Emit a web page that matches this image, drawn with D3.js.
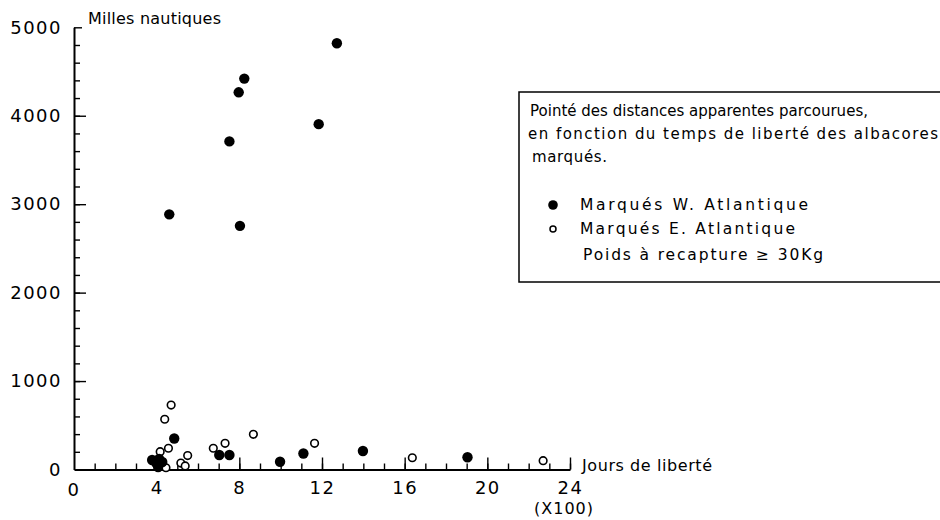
<!DOCTYPE html>
<html>
<head>
<meta charset="utf-8">
<script src="https://cdn.jsdelivr.net/npm/d3@7"></script>
<style>
  html, body { margin: 0; padding: 0; background: #fff; }
  svg { display: block; }
  text { font-family: "DejaVu Sans", sans-serif; fill: #000; }
</style>
</head>
<body>
<div id="chart"></div>
<script>
// ---- données (x en centaines de jours, y en milles nautiques) ----
const xTicks = [0, 4, 8, 12, 16, 20, 24];
const yTicks = [0, 1000, 2000, 3000, 4000, 5000];

// marqués W. Atlantique (points pleins)
const westX = [12.72, 8.24, 7.97, 11.84, 7.52, 4.61, 8.03,
               4.85, 7.03, 7.52, 9.97, 11.1, 13.98, 19.04,
               3.78, 3.98, 4.12, 4.27, 4.07];
const westY = [4820, 4420, 4265, 3905, 3710, 2885, 2755,
               350, 164, 164, 88, 181, 209, 138,
               107, 74, 119, 85, 28];

// marqués E. Atlantique (cercles vides)
const eastX = [4.70, 4.39, 4.57, 4.17, 5.5, 5.17, 5.38, 4.45,
               6.74, 7.31, 8.68, 11.64, 16.37, 22.7];
const eastY = [729, 568, 240, 201, 158, 73, 40, 20,
               240, 296, 398, 296, 133, 100];

const legendLines = [
  "Pointé des distances apparentes parcourues,",
  "en fonction du temps de liberté des albacores",
  "marqués."
];
const seriesNames = ["Marqués  W. Atlantique", "Marqués  E. Atlantique"];
const noteText = "Poids à recapture  ≥ 30Kg";

// ---- mise en page ----
const width = 940, height = 520;

const svg = d3.select("#chart").append("svg")
  .attr("width", width)
  .attr("height", height);

const x = d3.scaleLinear().domain([0, 24]).range([74, 570]);
const y = d3.scaleLinear().domain([0, 5000]).range([469.5, 27.3]);

// axe X : petites graduations puis grandes
svg.append("g")
  .attr("transform", `translate(0,${y(0)})`)
  .call(d3.axisBottom(x).tickValues(d3.range(1, 25)).tickSizeInner(-6).tickSizeOuter(0).tickFormat(""));

const gxMajor = svg.append("g")
  .attr("transform", `translate(0,${y(0)})`)
  .call(d3.axisBottom(x).tickValues(xTicks.slice(1)).tickSizeInner(-12).tickSizeOuter(0).tickPadding(12));
gxMajor.select(".domain").remove();

// le 0 de l'axe X sans trait
svg.append("text")
  .attr("class", "lbl")
  .attr("x", x(0)).attr("y", 496)
  .attr("text-anchor", "middle")
  .text("0");

// axe Y
svg.append("g")
  .attr("transform", `translate(${x(0)},0)`)
  .call(d3.axisLeft(y).tickValues(d3.range(200, 5000, 200)).tickSizeInner(-6).tickSizeOuter(0).tickFormat(""));

const gyMajor = svg.append("g")
  .attr("transform", `translate(${x(0)},0)`)
  .call(d3.axisLeft(y).tickValues(yTicks).tickSizeInner(-12).tickSizeOuter(0).tickPadding(12).tickFormat(d3.format("d")));
gyMajor.select(".domain").remove();
gyMajor.selectAll(".tick line").filter(d => d === 0).remove();
gyMajor.selectAll(".tick line").filter(d => d === 5000).attr("x2", 8);

svg.selectAll(".domain").attr("stroke", "#000").attr("stroke-width", 2);
svg.selectAll(".tick line").attr("stroke", "#000").attr("stroke-width", 1.4);
svg.selectAll(".tick text, .lbl")
  .style("font-family", "'DejaVu Sans', sans-serif")
  .style("font-size", "18px")
  .style("letter-spacing", "1.5px")
  .attr("fill", "#000");

// titres d'axes
svg.append("text")
  .attr("x", 88).attr("y", 24)
  .style("font-size", "16px")
  .attr("textLength", 133).attr("lengthAdjust", "spacing")
  .text("Milles nautiques");

svg.append("text")
  .attr("x", 582).attr("y", 471)
  .style("font-size", "16px")
  .attr("textLength", 130).attr("lengthAdjust", "spacing")
  .text("Jours de liberté");

svg.append("text")
  .attr("x", 564).attr("y", 514)
  .attr("text-anchor", "middle")
  .style("font-size", "16px")
  .style("letter-spacing", "1px")
  .text("(X100)");

// points
const east = eastX.map((d, i) => ({ x: d, y: eastY[i] }));
const west = westX.map((d, i) => ({ x: d, y: westY[i] }));

svg.append("g").selectAll("circle")
  .data(east)
  .join("circle")
  .attr("cx", d => x(d.x))
  .attr("cy", d => y(d.y))
  .attr("r", 3.8)
  .attr("fill", "#fff")
  .attr("stroke", "#000")
  .attr("stroke-width", 1.6);

svg.append("g").selectAll("circle")
  .data(west)
  .join("circle")
  .attr("cx", d => x(d.x))
  .attr("cy", d => y(d.y))
  .attr("r", 5.2)
  .attr("fill", "#000");

// légende encadrée
const legend = svg.append("g");
legend.append("rect")
  .attr("x", 519).attr("y", 92)
  .attr("width", 440).attr("height", 190)
  .attr("fill", "none")
  .attr("stroke", "#000")
  .attr("stroke-width", 1.5);

const lineX = [530, 528, 532];
const lineY = [116, 139, 162];
const lineLen = [338, 410, 75];
legendLines.forEach((t, i) => {
  legend.append("text")
    .attr("x", lineX[i]).attr("y", lineY[i])
    .style("font-size", "15px")
    .attr("textLength", lineLen[i]).attr("lengthAdjust", "spacing")
    .text(t);
});

legend.append("circle").attr("cx", 553).attr("cy", 205).attr("r", 4.8).attr("fill", "#000");
legend.append("circle").attr("cx", 553).attr("cy", 229).attr("r", 3)
  .attr("fill", "#fff").attr("stroke", "#000").attr("stroke-width", 1.5);

const rowX = [580, 580, 583];
const rowY = [210, 234, 260];
const rowLen = [228, 215, 240];
[seriesNames[0], seriesNames[1], noteText].forEach((t, i) => {
  legend.append("text")
    .attr("x", rowX[i]).attr("y", rowY[i])
    .style("font-size", "15.5px")
    .attr("textLength", rowLen[i]).attr("lengthAdjust", "spacing")
    .text(t);
});
</script>
</body>
</html>
